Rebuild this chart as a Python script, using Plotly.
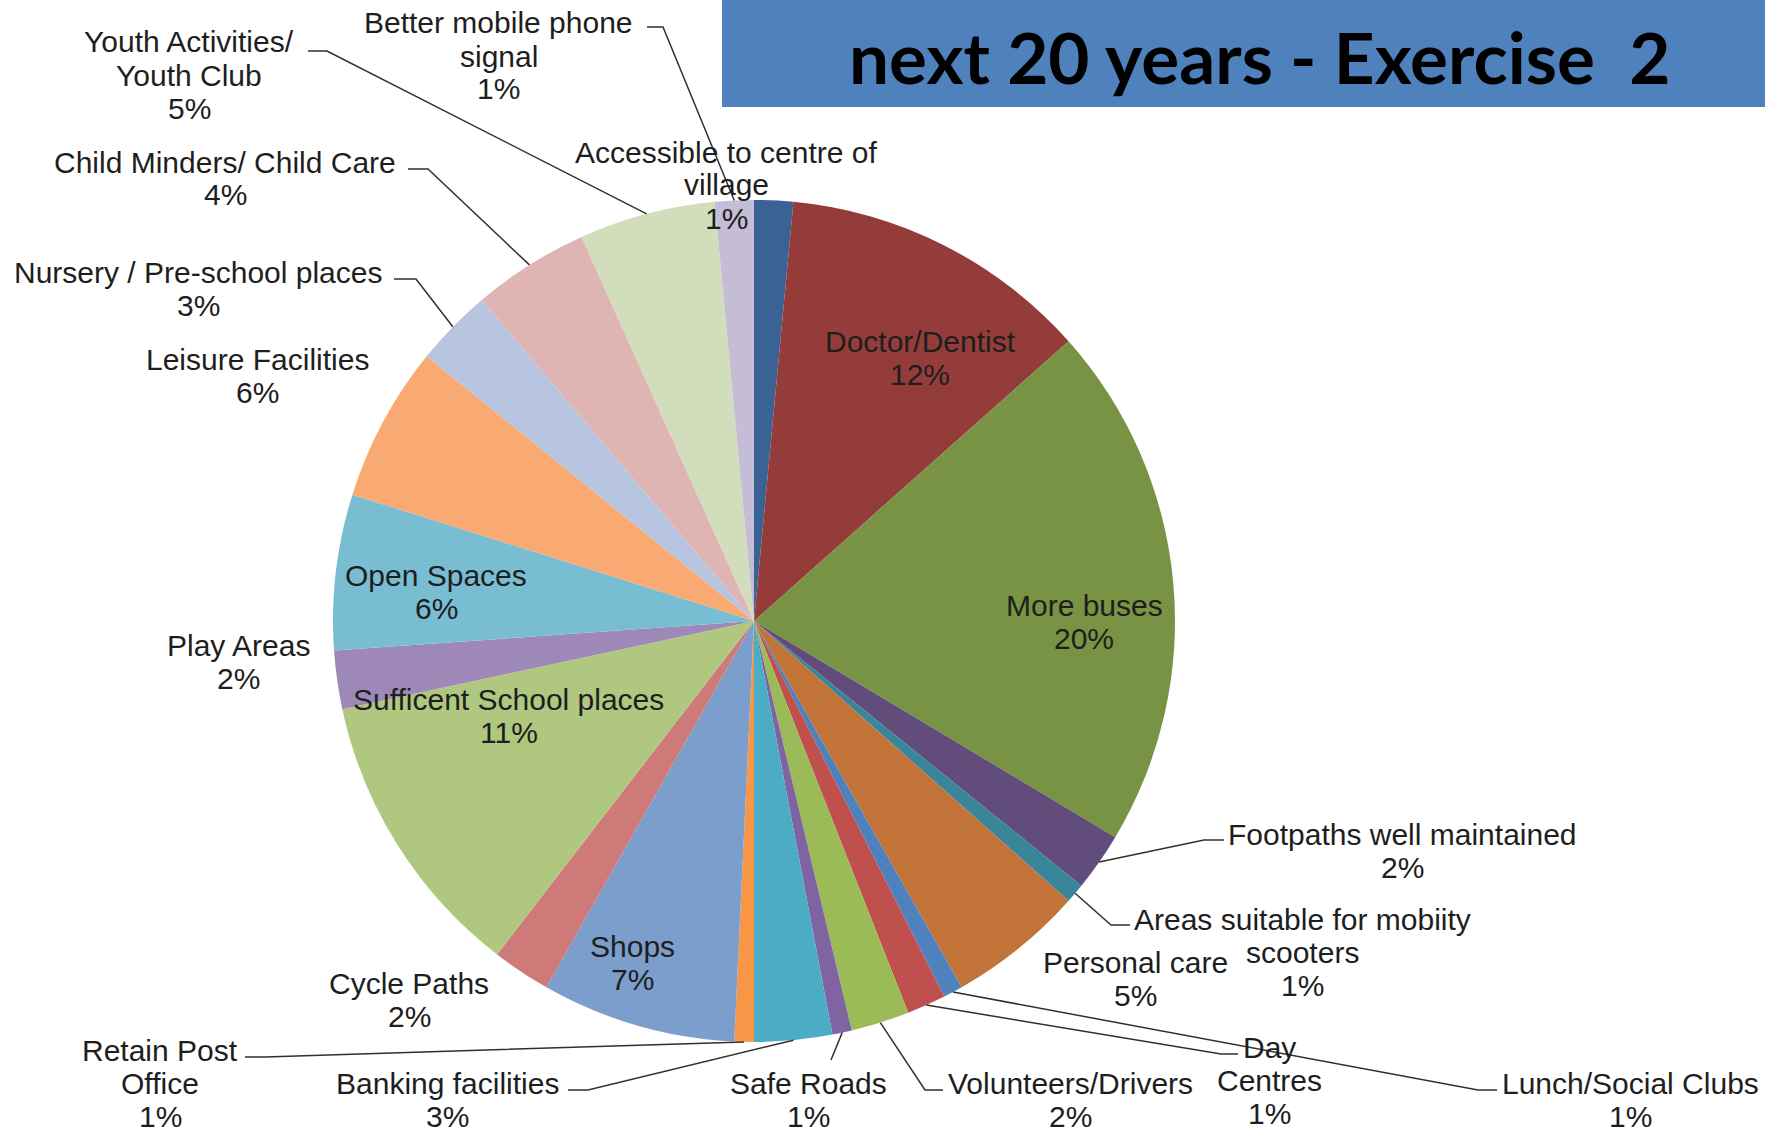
import math
import plotly.graph_objects as go

# ---------------- data ----------------
categories = [
    "Accessible to centre of village", "Doctor/Dentist", "More buses",
    "Footpaths well maintained", "Areas suitable for mobiity scooters",
    "Personal care", "Lunch/Social Clubs", "Day Centres", "Volunteers/Drivers",
    "Safe Roads", "Banking facilities", "Retain Post Office", "Shops",
    "Cycle Paths", "Sufficent School places", "Play Areas", "Open Spaces",
    "Leisure Facilities", "Nursery / Pre-school places",
    "Child Minders/ Child Care", "Youth Activities/ Youth Club",
    "Better mobile phone signal",
]
values = [2, 16, 27, 3, 1, 7, 1, 2, 3, 1, 4, 1, 10, 3, 15, 3, 8, 8, 4, 6, 7, 2]
title_text = "next 20 years - Exercise\u00a0 2"

# ---------------- styles ----------------
colors = [
    "#3B6295", "#943C3A", "#789343", "#614C7B", "#39859A", "#C27337",
    "#4F81BD", "#C0504D", "#9BBB59", "#8064A2", "#4BACC6", "#F79646",
    "#7B9ECC", "#CD7A78", "#AFC77F", "#9D88B7", "#78BDD2", "#F8AA72",
    "#B7C5E0", "#DFB5B4", "#D1DDBB", "#C5BCD6",
]

W, H = 1765, 1137
CX, CY, R = 754, 621, 421
FONT = "Liberation Sans, Arial, sans-serif"
FS = 30
LS = 33  # line spacing in px
TXT = "#1e1e1e"
LEAD = "#303030"

# label layout: category -> (lines of name, center x px, first-line y px, leader elbow points px)
label_layout = {
    "Accessible to centre of village": (["Accessible to centre of", "village"], 726, 152, None),
    "Doctor/Dentist": (["Doctor/Dentist"], 920, 341, None),
    "More buses": (["More buses"], 1084, 605, None),
    "Footpaths well maintained": (["Footpaths well maintained"], 1402, 834, [(1224, 840), (1204, 840)]),
    "Areas suitable for mobiity scooters": (["Areas suitable for mobiity", "scooters"], 1302, 919, [(1130, 925), (1111, 925)]),
    "Personal care": (["Personal care"], 1135, 962, None),
    "Lunch/Social Clubs": (["Lunch/Social Clubs"], 1630, 1083, [(1497, 1090), (1478, 1090)]),
    "Day Centres": (["Day", "Centres"], 1269, 1047, [(1238, 1054), (1221, 1054)]),
    "Volunteers/Drivers": (["Volunteers/Drivers"], 1070, 1083, [(943, 1090), (925, 1090)]),
    "Safe Roads": (["Safe Roads"], 808, 1083, [(831, 1060)]),
    "Banking facilities": (["Banking facilities"], 447, 1083, [(568, 1090), (588, 1090)]),
    "Retain Post Office": (["Retain Post", "Office"], 160, 1050, [(245, 1057), (265, 1057)]),
    "Shops": (["Shops"], 632, 946, None),
    "Cycle Paths": (["Cycle Paths"], 409, 983, None),
    "Sufficent School places": (["Sufficent School places"], 509, 699, None),
    "Play Areas": (["Play Areas"], 238, 645, None),
    "Open Spaces": (["Open Spaces"], 436, 575, None),
    "Leisure Facilities": (["Leisure Facilities"], 257, 359, None),
    "Nursery / Pre-school places": (["Nursery / Pre-school places"], 198, 272, [(394, 279), (416, 279)]),
    "Child Minders/ Child Care": (["Child Minders/ Child Care"], 225, 162, [(408, 169), (428, 169)]),
    "Youth Activities/ Youth Club": (["Youth Activities/", "Youth Club"], 189, 42, [(308, 51), (327, 51)]),
    "Better mobile phone signal": (["Better mobile phone", "signal"], 499, 23, [(647, 27), (663, 27)]),
}


def px(x):
    return x / W


def py(y):
    return 1 - y / H


total = sum(values)
mids = []
cum = 0
for v in values:
    mids.append((cum + v / 2) / total * 360.0)
    cum += v

fig = go.Figure(
    go.Pie(
        labels=categories,
        values=values,
        sort=False,
        direction="clockwise",
        rotation=0,
        marker=dict(colors=colors, line=dict(width=0)),
        textinfo="none",
        showlegend=False,
        hoverinfo="label+percent",
        domain=dict(x=[px(CX - R), px(CX + R)], y=[py(CY + R), py(CY - R)]),
    )
)

annotations = []
shapes = []

# title box
shapes.append(dict(type="rect", xref="paper", yref="paper",
                   x0=px(722), x1=1.0, y0=py(107), y1=1.0,
                   fillcolor="#4F81BD", line=dict(width=0), layer="above"))
annotations.append(dict(text="<b>" + title_text + "</b>", xref="paper", yref="paper",
                        x=px(1260), y=py(56), xanchor="center", yanchor="middle",
                        showarrow=False,
                        font=dict(family="Lato, Open Sans, sans-serif", size=71, color="#000000")))

for cat, v, mid in zip(categories, values, mids):
    lines, lx, ly, leader = label_layout[cat]
    pct = f"{round(100 * v / total)}%"
    all_lines = lines + [pct]
    for i, t in enumerate(all_lines):
        annotations.append(dict(text=t, xref="paper", yref="paper",
                                x=px(lx), y=py(ly + i * LS),
                                xanchor="center", yanchor="middle", showarrow=False,
                                font=dict(family=FONT, size=FS, color=TXT)))
    if leader:
        th = math.radians(mid)
        ex = CX + R * math.sin(th)
        ey = CY - R * math.cos(th)
        pts = leader + [(ex, ey)]
        path = "M " + " L ".join(f"{px(x):.5f},{py(y):.5f}" for x, y in pts)
        shapes.append(dict(type="path", xref="paper", yref="paper", path=path,
                           line=dict(color=LEAD, width=1.5), layer="above"))

fig.update_layout(
    width=W, height=H,
    margin=dict(l=0, r=0, t=0, b=0),
    paper_bgcolor="#FFFFFF", plot_bgcolor="#FFFFFF",
    shapes=shapes, annotations=annotations,
)

fig.write_html("out.html")
